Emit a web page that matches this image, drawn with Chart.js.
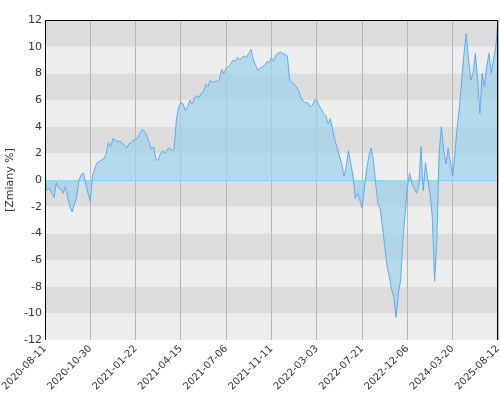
<!DOCTYPE html>
<html><head><script src="https://cdn.jsdelivr.net/npm/chart.js@4/dist/chart.umd.min.js"></script>
<style>body{margin:0;background:#fff}#w{width:500px;height:400px}</style></head>
<body><div id="w"><canvas id="c"></canvas></div>
<script>
const tickLabels=['2020-08-11','2020-10-30','2021-01-22','2021-04-15','2021-07-06','2021-11-11','2022-03-03','2022-07-21','2022-12-06','2024-03-20','2025-08-12'];
const s1=[0,-0.8,-0.6,-1.0,-1.3,-0.2,-0.6,-0.7,-1.0,-0.5,-1.3,-2.0,-2.4,-1.8,-1.2,0.0,0.4,0.5,-0.3,-1.0];
const s2=[-1.6,0.3,0.9,1.3,1.4,1.5,1.6,2.0,2.8,2.5,3.1,3.0,2.9,2.9,2.8,2.6,2.4,2.7,2.8,3.0];
const s3=[3.0,3.2,3.5,3.8,3.6,3.3,2.8,2.3,2.5,1.5,1.5,2.0,2.2,2.0,2.3,2.4,2.2,2.3,4.5,5.5];
const s4=[5.8,5.7,5.2,5.5,6.0,5.7,6.2,6.3,6.2,6.5,6.6,7.2,7.0,7.5,7.3,7.4,7.4,7.5,8.3,8.0];
const s5=[8.4,8.5,8.7,9.0,8.9,9.2,9.0,9.2,9.3,9.2,9.5,9.8,9.0,8.6,8.2,8.4,8.5,8.6,8.9,8.8];
const s6=[9.2,8.9,9.4,9.5,9.6,9.5,9.4,9.3,7.5,7.3,7.2,7.0,6.7,6.2,5.9,5.8,5.8,5.5,5.6,6.0];
const s7=[6.0,5.6,5.3,5.0,4.8,4.2,4.6,3.8,3.0,2.4,1.8,1.2,0.3,1.0,2.2,1.2,0.3,-1.4,-1.0,-1.5];
const s8=[-2.1,-0.6,0.8,1.8,2.4,1.5,-0.3,-1.8,-2.2,-3.5,-5.0,-6.5,-7.2,-8.2,-8.8,-10.3,-8.5,-7.5,-4.5,-2.5];
const s9=[-0.5,0.5,-0.3,-0.6,-1.0,-0.5,2.5,-0.8,1.3,0.0,-1.0,-2.8,-7.6,-4.5,2.0,4.0,2.3,1.2,2.4,1.3];
const s10=[0.3,2.0,4.0,5.5,7.5,9.5,11.0,9.0,7.5,8.0,9.5,7.5,5.0,8.0,7.0,8.5,9.5,8.0,9.0,10.0,12.0];
const values=[...s1,...s2,...s3,...s4,...s5,...s6,...s7,...s8,...s9,...s10];
const pts=values.map((v,i)=>({x:i,y:v}));
const bands={id:'bands',beforeDraw(ch){const {ctx,chartArea:a,scales:{y}}=ch;ctx.save();
for(let v=-12;v<12;v+=2){const t=y.getPixelForValue(v+2),b=y.getPixelForValue(v);ctx.fillStyle=(Math.abs(v/2)%2===1)?'#dcdcdc':'#eeeeee';ctx.fillRect(a.left,t,a.right-a.left,b-t);}
ctx.restore();},
afterDraw(ch){const {ctx,chartArea:a}=ch;ctx.save();ctx.strokeStyle='#000';ctx.lineWidth=1;ctx.beginPath();
ctx.moveTo(a.left+0.5,a.bottom);ctx.lineTo(a.left+0.5,a.top+0.5);ctx.lineTo(a.right-0.5,a.top+0.5);ctx.lineTo(a.right-0.5,a.bottom);ctx.stroke();ctx.restore();}};
new Chart(document.getElementById('c'),{type:'line',
data:{datasets:[{data:pts,borderColor:'#5aaaf0',borderWidth:1,pointRadius:0,tension:0,fill:'origin',backgroundColor:'rgba(160,210,232,0.75)'}]},
options:{responsive:true,maintainAspectRatio:false,animation:false,
layout:{padding:{top:20,right:2,left:0,bottom:0}},
plugins:{legend:{display:false},tooltip:{enabled:false}},
scales:{
x:{type:'linear',min:0,max:200,afterFit(s){s.height=60;s.paddingRight=0;s.paddingLeft=0;},
 ticks:{stepSize:20,autoSkip:false,maxRotation:45,minRotation:45,color:'#333',font:{family:'DejaVu Sans',size:10},callback:v=>tickLabels[v/20]||''},
 grid:{color:'#b4b4b4',drawTicks:false},border:{display:false}},
y:{min:-12,max:12,afterFit(s){s.width=45;s.paddingTop=0;s.paddingBottom=0;},
 ticks:{stepSize:2,color:'#333',font:{family:'DejaVu Sans',size:11}},
 title:{display:true,text:'[Zmiany %]',color:'#333',font:{family:'DejaVu Sans',size:11}},
 grid:{color:c=>c.tick&&c.tick.value===0?'#87cef0':'rgba(0,0,0,0)',drawTicks:false},border:{display:false}}}},
plugins:[bands]});
</script></body></html>
